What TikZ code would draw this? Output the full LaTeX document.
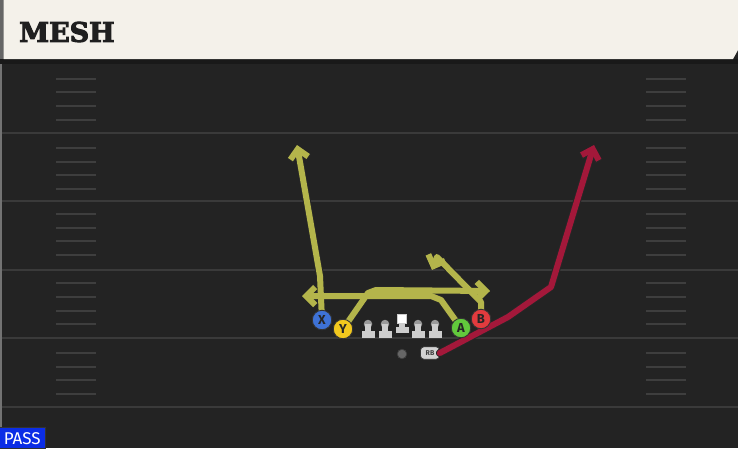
\documentclass[tikz,border=0pt]{standalone}
\usepackage{fontspec}
\newfontfamily\titlefont{DejaVu Serif}[BoldFeatures={FakeBold=3.5}]
\newfontfamily\labfont{Fira Sans}
\usetikzlibrary{arrows.meta}
\definecolor{bg}{HTML}{232323}
\definecolor{fieldline}{HTML}{3A3A3A}
\definecolor{hashc}{HTML}{3E3E3E}
\definecolor{header}{HTML}{F4F1EA}
\definecolor{route}{HTML}{B4B54B}
\definecolor{rbroute}{HTML}{A3183A}
\definecolor{xblue}{HTML}{3E72D6}
\definecolor{yyellow}{HTML}{F2C81E}
\definecolor{agreen}{HTML}{62C93C}
\definecolor{bred}{HTML}{E23B3E}
\definecolor{olgrey}{HTML}{CDCDCD}
\definecolor{passblue}{HTML}{0B2DE6}
\tikzset{
  routeout/.style={line width=8pt, draw=black!85, line join=round, line cap=round,
     -{Straight Barb[length=9pt,width=19pt,line width=8pt]}},
  routein/.style={line width=6pt, draw=#1, line join=round, line cap=round,
     -{Straight Barb[length=9pt,width=18pt,line width=6pt]}},
  player/.style={circle, draw=black!80, line width=0.9pt, fill=#1, minimum size=19.5pt, inner sep=0pt,
     font=\labfont\bfseries\fontsize{13}{13}\selectfont, text=black!85},
  hashmark/.style={draw=hashc, line width=1.6pt},
  yardline/.style={draw=fieldline, line width=2pt},
}
\begin{document}
\begin{tikzpicture}[x=1pt,y=-1pt]
\useasboundingbox (0,0) rectangle (738,448);
\fill[bg] (0,0) rectangle (738,448);
% left edge strip
\fill[black!55] (0,59) rectangle (2,448);
% yard lines
\foreach \yy in {133,201,270,338,407} {\draw[yardline] (2,\yy) -- (738,\yy);}
% hash marks
\foreach \yy in {79,92,106,120,148,162,175,189,214,228,241,255,283,297,311,324,353,367,380,394} {
  \draw[hashmark] (56,\yy) -- (96,\yy);
  \draw[hashmark] (646,\yy) -- (686,\yy);
}
% header
\fill[black!90] (0,59) rectangle (738,64);
\fill[black!60] (0,0) rectangle (3.5,59);
\fill[header] (3.5,0) -- (738,0) -- (738,50) -- (733,59) -- (3.5,59) -- cycle;
\node[anchor=west, inner sep=0pt, font=\titlefont\bfseries\fontsize{27}{27}\selectfont, text=black!88] (title) at (19,32) {MESH};
% QB
\node[circle, fill=black!60, draw=black!75, line width=0.7pt, minimum size=9.5pt, inner sep=0pt] (qb) at (402,354) {};
% RB
\node[rounded corners=3.5pt, fill=olgrey!90, draw=black!80, line width=0.7pt, minimum width=19pt, minimum height=12.5pt, inner sep=0pt,
   font=\labfont\bfseries\fontsize{7}{7}\selectfont, text=black!75] (rb) at (430,353) {RB};
% coordinates
\coordinate (xtop) at (297,145);
\coordinate (xbend) at (320,276);
\coordinate (ybend) at (368,293);
\coordinate (ybend2) at (376,290);
\coordinate (yend) at (490,291);
\coordinate (abend) at (441,300);
\coordinate (abend2) at (431,296);
\coordinate (aend) at (302,296);
\coordinate (bup) at (481,302);
\coordinate (bpeak) at (437,257);
\coordinate (bend) at (432,270);
\coordinate (rb1) at (508,317);
\coordinate (rb2) at (551,287);
\coordinate (rbtop) at (594,145);
% players positions
\coordinate (Xp) at (322,320);
\coordinate (Yp) at (343,329);
\coordinate (Ap) at (461,328);
\coordinate (Bp) at (481,319);
% RB route
\draw[routeout] (rb.east) -- (rb1) -- (rb2) -- (rbtop);
\draw[routein=rbroute] (rb.east) -- (rb1) -- (rb2) -- (rbtop);
% routes outlines
\draw[routeout] (Xp) -- (xbend) -- (xtop);
\draw[routeout] (Yp) -- (ybend) -- (ybend2) -- (yend);
\draw[routeout] (Ap) -- (abend) -- (abend2) -- (aend);
\draw[routeout] (Bp) -- (bup) -- (bpeak) -- (bend);
% routes fill
\draw[routein=route] (Xp) -- (xbend) -- (xtop);
\draw[routein=route] (Yp) -- (ybend) -- (ybend2) -- (yend);
\draw[routein=route] (Ap) -- (abend) -- (abend2) -- (aend);
\draw[routein=route] (Bp) -- (bup) -- (bpeak) -- (bend);
% players
\node[player=xblue] (X) at (Xp) {X};
\node[player=yyellow] (Y) at (Yp) {Y};
\node[player=agreen] (A) at (Ap) {A};
\node[player=bred] (B) at (Bp) {B};
% linemen
\foreach \xx/\nm in {368/t1,385/g1,418/g2,435/t2} {
  \fill[olgrey] (\xx-6.5,331) rectangle (\xx+6.5,338);
  \node[circle, fill=olgrey!75!black, minimum size=8.5pt, inner sep=0pt] (\nm) at (\xx,324) {};
  \fill[olgrey] (\xx-3,324) rectangle (\xx+3,332);
}
\fill[olgrey] (395.5,326.5) rectangle (408.5,333);
\fill[olgrey] (399,321) rectangle (405,328);
\node[rectangle, fill=white, draw=olgrey, line width=0.8pt, minimum size=9pt, inner sep=0pt] (ctr) at (402,318.5) {};
% PASS label
\node[anchor=south west, fill=passblue, draw=black!80, line width=0.6pt, minimum width=46pt, minimum height=21pt, inner sep=0pt,
   font=\labfont\fontsize{17}{17}\selectfont, text=white] (pass) at (-1,449) {PASS};
\end{tikzpicture}
\end{document}
